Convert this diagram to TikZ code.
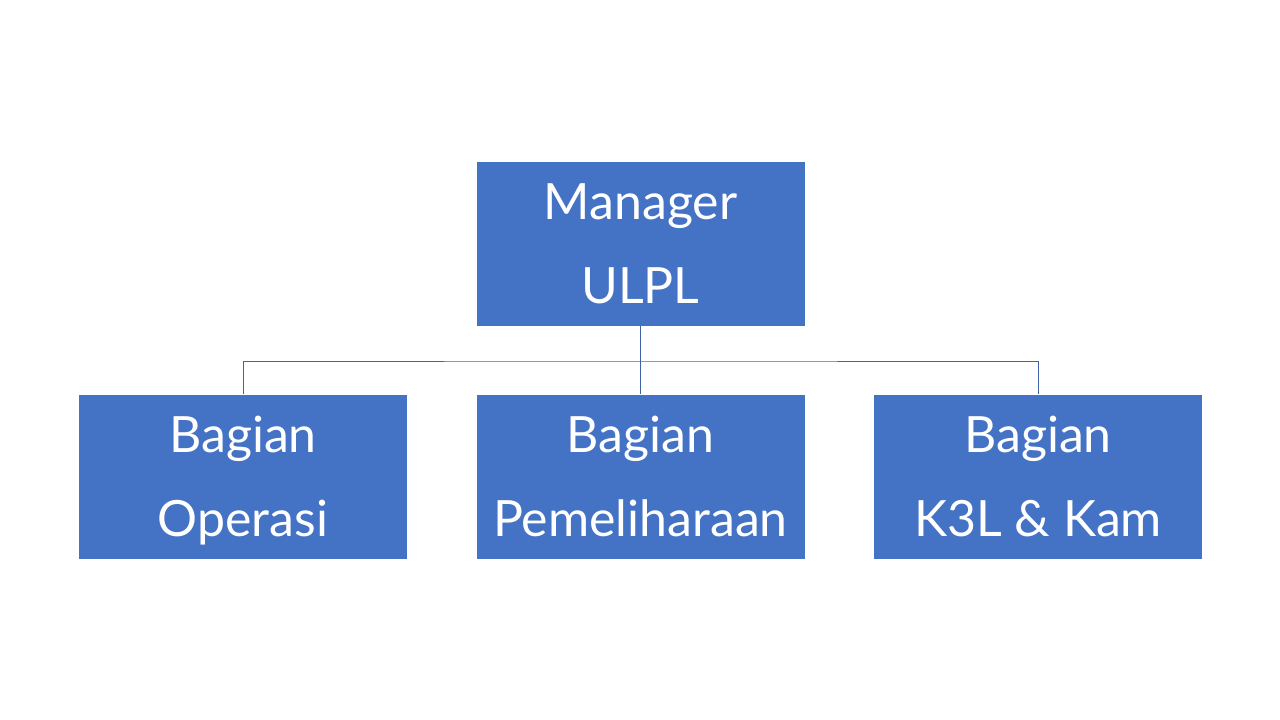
\documentclass[tikz,border=0pt]{standalone}
\usepackage{fontspec}
\setmainfont{Lato}
\usepackage{tikz}
\usetikzlibrary{positioning,calc}
\definecolor{boxblue}{HTML}{4472C4}
\definecolor{lineblue}{HTML}{3F62A8}

\begin{document}
\begin{tikzpicture}[x=0.75pt,y=-0.75pt,
  unit/.style={fill=boxblue,text=white,minimum width=246pt,minimum height=123pt,inner sep=0pt,text depth=0pt,align=center,font=\fontsize{37.5pt}{63pt}\selectfont},
  link/.style={lineblue,line width=0.6pt}]
\useasboundingbox (0,0) rectangle (1280,720);
\node[unit] (mgr) at (640.5,244) {Manager\\ULPL};
\node[unit] (ops) at (243,476.5) {Bagian\\Operasi};
\node[unit] (har) at (640.5,476.5) {Bagian\\Pemeliharaan};
\node[unit] (k3l) at (1038,476.5) {Bagian\\K3L \& Kam};
\coordinate (bus) at (640.5,361);
\draw[link] (mgr.south) -- (har.north);
\draw[link] (ops.north) |- (bus) -| (k3l.north);
\end{tikzpicture}
\end{document}
